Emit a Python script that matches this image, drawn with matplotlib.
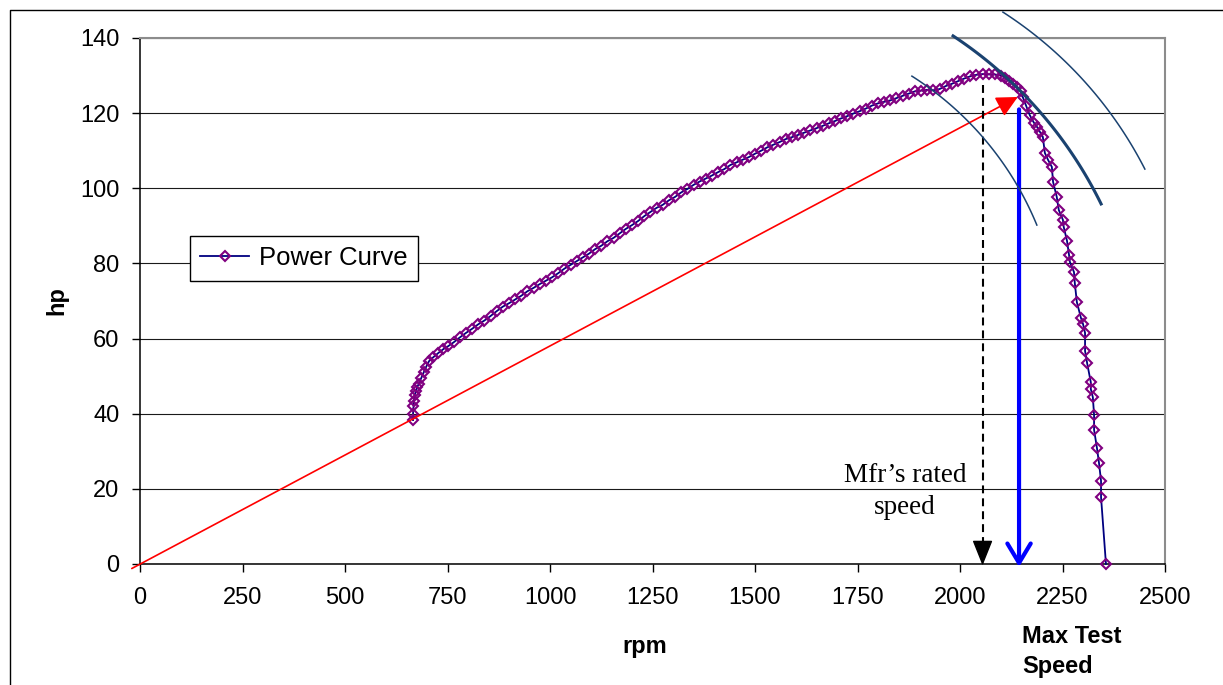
import numpy as np
import matplotlib
matplotlib.use("Agg")
import matplotlib.pyplot as plt
from matplotlib.lines import Line2D

plt.rcParams['font.family'] = ['Liberation Sans', 'DejaVu Sans']

# ---------------- data ----------------
rpm = [666, 666, 667, 668, 670, 673, 676, 680, 686, 692, 698, 705, 715, 728, 740,
       752, 765, 780, 795, 810, 825, 840, 855, 870, 885, 900, 915, 930, 945, 960,
       975, 990, 1005, 1020, 1035, 1050, 1065, 1080, 1095, 1110, 1125, 1140, 1155,
       1170, 1185, 1200, 1215, 1230, 1245, 1260, 1275, 1290, 1305, 1320, 1335, 1350,
       1365, 1380, 1395, 1410, 1425, 1440, 1455, 1470, 1485, 1500, 1515, 1530, 1545,
       1560, 1575, 1590, 1605, 1620, 1635, 1650, 1665, 1680, 1695, 1710, 1725, 1740,
       1755, 1770, 1785, 1800, 1815, 1830, 1845, 1860, 1875, 1890, 1905, 1920, 1935,
       1950, 1965, 1980, 1995, 2010, 2025, 2040, 2055, 2070, 2085, 2100, 2110, 2120,
       2130, 2140, 2148, 2153, 2162, 2170, 2180, 2188, 2195, 2202, 2207, 2215, 2224,
       2227, 2236, 2241, 2251, 2253, 2261, 2266, 2268, 2278, 2280, 2285, 2295, 2300,
       2305, 2305, 2310, 2319, 2319, 2324, 2327, 2327, 2334, 2339, 2344, 2344, 2356]
hp = [38.3, 40.0, 42.0, 43.5, 45.0, 46.0, 47.0, 48.0, 49.5, 51.0, 52.5, 54.0, 55.0, 56.2, 57.2,
      58.0, 59.0, 60.3, 61.5, 62.6, 63.8, 64.8, 66.0, 67.3, 68.5, 69.4, 70.4, 71.4, 72.6, 73.5,
      74.5, 75.4, 76.3, 77.4, 78.6, 79.6, 80.6, 81.6, 82.6, 83.8, 84.7, 85.9, 86.8,
      88.0, 89.2, 90.2, 91.3, 92.6, 93.7, 94.8, 95.6, 96.8, 97.7, 98.9, 99.8, 100.9,
      101.8, 102.6, 103.4, 104.3, 105.1, 106.2, 106.9, 107.6, 108.3, 109.2, 110.0, 110.9, 111.6,
      112.3, 113.1, 113.6, 114.2, 114.8, 115.4, 116.0, 116.6, 117.3, 117.9, 118.6, 119.2, 119.9,
      120.5, 121.2, 122.0, 122.6, 123.0, 123.4, 124.0, 124.6, 125.2, 125.8, 126.0, 126.2, 126.1,
      126.4, 127.2, 127.8, 128.5, 129.2, 129.8, 130.2, 130.4, 130.3, 130.3, 130.0, 129.4, 128.6,
      127.8, 126.9, 125.8, 124.3, 121.8, 119.5, 117.5, 116.3, 115.0, 113.7, 109.4, 107.5, 105.7,
      101.7, 97.7, 94.2, 91.6, 89.7, 86.0, 82.2, 80.4, 77.7, 74.8, 69.7, 65.5, 63.9,
      61.5, 56.7, 53.5, 48.4, 46.6, 44.4, 39.7, 35.7, 30.9, 26.9, 22.1, 17.8, 0.0]

x_ticks = [0, 250, 500, 750, 1000, 1250, 1500, 1750, 2000, 2250, 2500]
y_ticks = [0, 20, 40, 60, 80, 100, 120, 140]

series_name = "Power Curve"
rated_speed = 2055          # Mfr's rated speed (rpm)
rated_top_hp = 127.5
max_test_speed = 2144       # Max test speed (rpm)
max_test_top_hp = 121
red_start = (-20, -1.2)
red_end = (2141, 124.3)

# ---------------- figure ----------------
W, H = 1223, 685
fig = plt.figure(figsize=(W / 100, H / 100), dpi=100)
fig.patch.set_facecolor('white')
ax = fig.add_axes([140 / W, 1 - 564 / H, 1025 / W, 526 / H])

ax.set_xlim(0, 2500)
ax.set_ylim(0, 140)
ax.set_xticks(x_ticks)
ax.set_yticks(y_ticks)
ax.set_xticklabels([str(t) for t in x_ticks])
ax.set_yticklabels([str(t) for t in y_ticks])
ax.tick_params(axis='both', direction='out', length=5.8, width=1.0, color='black',
               labelsize=17)
ax.tick_params(axis='x', pad=11)
ax.tick_params(axis='y', pad=9)

ax.yaxis.grid(True, color='#1a1a1a', linewidth=0.8)
ax.set_axisbelow(True)

for s in ['top', 'right']:
    ax.spines[s].set_color('#8c8c8c')
    ax.spines[s].set_linewidth(1.5)
for s in ['left', 'bottom']:
    ax.spines[s].set_color('black')
    ax.spines[s].set_linewidth(1.1)

# power curve
ax.plot(rpm, hp, color='#000080', linewidth=1.3, marker='D', markersize=5.4,
        markerfacecolor='none', markeredgecolor='#800080', markeredgewidth=1.5,
        label=series_name, clip_on=False, zorder=3)

# red arrow from origin to near max test point
ax.annotate('', xy=red_end, xytext=red_start, annotation_clip=False,
            arrowprops=dict(arrowstyle='-|>,head_length=1.0,head_width=0.5',
                            mutation_scale=13, color='#FF0000', lw=1.2,
                            shrinkA=0, shrinkB=0), zorder=5)

# dashed rated speed line + filled head
ax.plot([rated_speed, rated_speed], [rated_top_hp, 4.0], color='black', lw=1.5,
        linestyle=(0, (3.8, 2.4)), zorder=5)
ax.annotate('', xy=(rated_speed, -0.4), xytext=(rated_speed, 5.5), annotation_clip=False,
            arrowprops=dict(arrowstyle='-|>,head_length=1.0,head_width=0.4',
                            mutation_scale=16, color='black', lw=1.0,
                            shrinkA=0, shrinkB=0), zorder=5)

# blue max test speed arrow
ax.annotate('', xy=(max_test_speed, -0.8), xytext=(max_test_speed, max_test_top_hp),
            annotation_clip=False,
            arrowprops=dict(arrowstyle='->,head_length=1.0,head_width=0.6',
                            mutation_scale=14, color='#0000FF', lw=3.0,
                            shrinkA=0, shrinkB=0), zorder=5)

# axis labels
ax.set_xlabel('rpm', fontsize=17, fontweight='bold', va='center')
ax.xaxis.set_label_coords((645 - 140) / 1025, (564 - 647) / 526)
ax.set_ylabel('hp', fontsize=17, fontweight='bold', va='center')
ax.yaxis.set_label_coords((57 - 140) / 1025, 0.5)

# legend
leg = ax.legend(loc='upper left', bbox_to_anchor=((190 - 140) / 1025, (564 - 236) / 526),
                borderaxespad=0, fontsize=18.5, frameon=True, fancybox=False,
                framealpha=1, edgecolor='black', handlelength=1.9, handletextpad=0.4,
                borderpad=0.4)
leg.get_frame().set_linewidth(1.0)

# text annotations (pixel positions converted to figure fraction)
def fx(px):
    return px / W

def fy(py):
    return 1 - py / H

fig.text(fx(905), fy(482), 'Mfr\u2019s rated', fontsize=19.5, family='Liberation Serif',
         ha='center', va='baseline')
fig.text(fx(905), fy(514), 'speed', fontsize=19.5, family='Liberation Serif',
         ha='center', va='baseline')
fig.text(fx(1022), fy(643), 'Max Test', fontsize=17, fontweight='bold',
         ha='left', va='baseline')
fig.text(fx(1022), fy(673), 'Speed', fontsize=17, fontweight='bold',
         ha='left', va='baseline')

# decorative arcs (pixel space: centre, radius, start, end, linewidth)
arcs = [((740.4, 346.9), 320.5, (912, 76), (1037, 225), 1.1),
        ((717.9, 392.3), 427.0, (953, 36), (1101, 204), 2.2),
        ((782.4, 354.2), 407.0, (1003, 12), (1145, 169), 1.1)]
for (cx, cy), r, p0, p1, lw in arcs:
    a0 = np.arctan2(p0[1] - cy, p0[0] - cx)
    a1 = np.arctan2(p1[1] - cy, p1[0] - cx)
    t = np.linspace(a0, a1, 100)
    xs = cx + r * np.cos(t)
    ys = cy + r * np.sin(t)
    fig.add_artist(Line2D(fx(xs), fy(ys), color='#1A4270', lw=lw,
                          transform=fig.transFigure, zorder=6))

# outer chart border
fig.add_artist(Line2D([fx(9.5), fx(9.5), fx(1230)], [fy(700), fy(9.5), fy(9.5)],
                      color='black', lw=1.0, transform=fig.transFigure))

fig.savefig('out.png', dpi=100)
